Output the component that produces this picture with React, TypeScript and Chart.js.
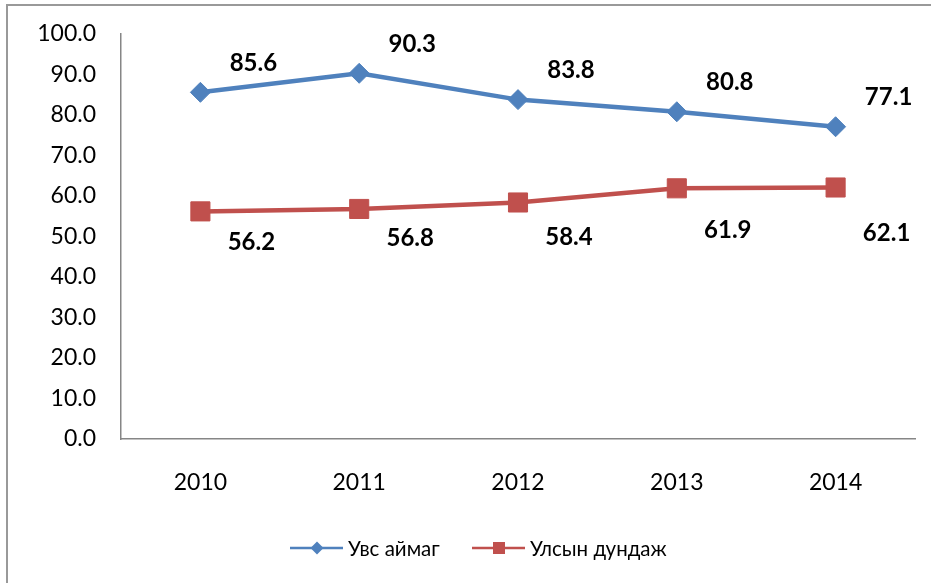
import React, { useEffect, useRef } from "react";
import { Chart, registerables } from "chart.js";

Chart.register(...registerables);

const categories = ["2010", "2011", "2012", "2013", "2014"];
const uvsValues = [85.6, 90.3, 83.8, 80.8, 77.1];
const nationalValues = [56.2, 56.8, 58.4, 61.9, 62.1];
const seriesNames = ["Увс аймаг", "Улсын дундаж"];

const BLUE = "#4F81BD";
const RED = "#C0504D";
const FONT = "Lato, 'Open Sans', sans-serif";

// label placement (style, not data)
const blueLabelOffset = { dx: 53, dy: -29 };
const redLabelDx = 51;
const redLabelDy = [31, 29, 35, 42, 46];

const framePlugin = {
  id: "frame",
  afterDraw(chart: any) {
    const ctx = chart.ctx;
    ctx.save();
    ctx.strokeStyle = "#999999";
    ctx.lineWidth = 2;
    ctx.beginPath();
    ctx.moveTo(7, chart.height);
    ctx.lineTo(7, 5);
    ctx.lineTo(chart.width, 5);
    ctx.stroke();
    ctx.restore();
  },
};

const labelPlugin = {
  id: "valueLabels",
  afterDatasetsDraw(chart: any) {
    const ctx = chart.ctx;
    ctx.save();
    ctx.font = `bold 24px ${FONT}`;
    ctx.fillStyle = "#000000";
    ctx.textAlign = "center";
    ctx.textBaseline = "middle";
    chart.data.datasets.forEach((ds: any, di: number) => {
      const meta = chart.getDatasetMeta(di);
      meta.data.forEach((pt: any, i: number) => {
        const v = ds.data[i] as number;
        let dx: number, dy: number;
        if (di === 0) {
          dx = blueLabelOffset.dx;
          dy = blueLabelOffset.dy;
        } else {
          dx = redLabelDx;
          dy = redLabelDy[i];
        }
        ctx.fillText(v.toFixed(1), pt.x + dx, pt.y + dy);
      });
    });
    ctx.restore();
  },
};

const legendPlugin = {
  id: "customLegend",
  afterDraw(chart: any) {
    const ctx = chart.ctx;
    const y = 548;
    ctx.save();
    ctx.font = `20.5px ${FONT}`;
    ctx.textBaseline = "middle";
    ctx.textAlign = "left";
    // series 1
    ctx.strokeStyle = BLUE;
    ctx.lineWidth = 2.5;
    ctx.beginPath();
    ctx.moveTo(290, y);
    ctx.lineTo(343, y);
    ctx.stroke();
    ctx.fillStyle = BLUE;
    ctx.beginPath();
    ctx.moveTo(317 - 6.5, y);
    ctx.lineTo(317, y - 6.5);
    ctx.lineTo(317 + 6.5, y);
    ctx.lineTo(317, y + 6.5);
    ctx.closePath();
    ctx.fill();
    ctx.fillStyle = "#000000";
    ctx.fillText(seriesNames[0], 348, y + 1);
    // series 2
    ctx.strokeStyle = RED;
    ctx.beginPath();
    ctx.moveTo(472, y);
    ctx.lineTo(525, y);
    ctx.stroke();
    ctx.fillStyle = RED;
    ctx.fillRect(493, y - 6, 12, 12);
    ctx.fillStyle = "#000000";
    ctx.fillText(seriesNames[1], 530, y + 1);
    ctx.restore();
  },
};

export default function App() {
  const ref = useRef<HTMLCanvasElement>(null);
  useEffect(() => {
    if (!ref.current) return;
    const chart = new Chart(ref.current, {
      type: "line",
      data: {
        labels: categories,
        datasets: [
          {
            label: seriesNames[0],
            data: uvsValues,
            borderColor: BLUE,
            backgroundColor: BLUE,
            borderWidth: 4.5,
            pointStyle: "rectRot",
            pointRadius: 10,
            pointBorderWidth: 1,
            pointBackgroundColor: BLUE,
            pointBorderColor: BLUE,
            tension: 0,
          },
          {
            label: seriesNames[1],
            data: nationalValues,
            borderColor: RED,
            backgroundColor: RED,
            borderWidth: 4.5,
            pointStyle: "rect",
            pointRadius: 13.5,
            pointBorderWidth: 1,
            pointBackgroundColor: RED,
            pointBorderColor: RED,
            tension: 0,
          },
        ],
      },
      options: {
        responsive: false,
        animation: false,
        layout: { padding: { left: 0, top: 34, right: 16, bottom: 0 } },
        plugins: {
          legend: { display: false },
          tooltip: { enabled: false },
        },
        scales: {
          x: {
            type: "category",
            offset: true,
            grid: { display: false, drawTicks: false },
            border: { display: true, color: "#868686", width: 1.5 },
            ticks: {
              color: "#000000",
              font: { family: FONT, size: 23 },
              padding: 30,
              maxRotation: 0,
            },
            afterFit(scale: any) {
              scale.height = 144;
              scale.paddingLeft = 0;
              scale.paddingRight = 0;
            },
          },
          y: {
            min: 0,
            max: 100,
            grid: { display: false, drawTicks: false },
            border: { display: true, color: "#868686", width: 1.5 },
            ticks: {
              stepSize: 10,
              color: "#000000",
              font: { family: FONT, size: 23 },
              padding: 25,
              callback: (v: any) => Number(v).toFixed(1),
            },
            afterFit(scale: any) {
              scale.width = 121;
              scale.paddingTop = 0;
              scale.paddingBottom = 0;
            },
          },
        },
      },
      plugins: [framePlugin, labelPlugin, legendPlugin],
    });
    return () => chart.destroy();
  }, []);
  return (
    <div style={{ position: "absolute", left: 0, top: 0, width: 931, height: 583, background: "#ffffff" }}>
      <canvas ref={ref} width={931} height={583} style={{ display: "block" }} />
    </div>
  );
}
